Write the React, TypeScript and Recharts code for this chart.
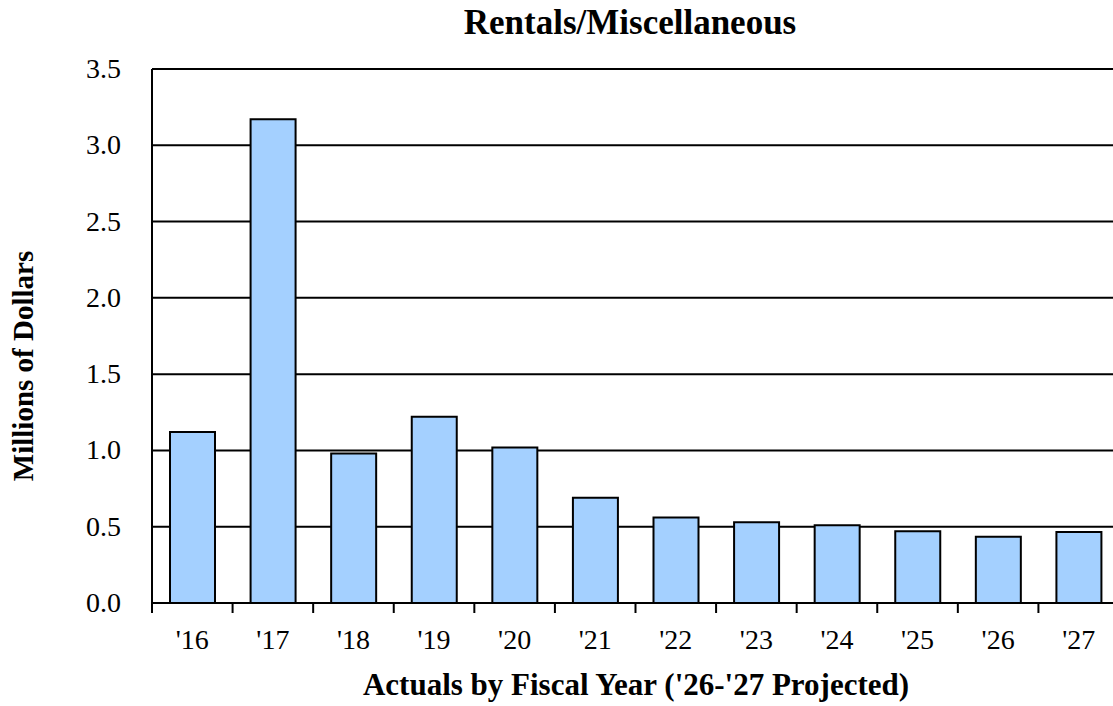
import { BarChart, Bar, XAxis, YAxis, CartesianGrid } from "recharts";

const years = ["'16", "'17", "'18", "'19", "'20", "'21", "'22", "'23", "'24", "'25", "'26", "'27"];
const rentals = [1.12, 3.17, 0.98, 1.22, 1.02, 0.69, 0.56, 0.53, 0.51, 0.47, 0.435, 0.465];
const yTicks = [0, 0.5, 1.0, 1.5, 2.0, 2.5, 3.0, 3.5];

const data = years.map((year, i) => ({ year, value: rentals[i] }));

const FONT = '"Liberation Serif", "Times New Roman", serif';

function XTick(props: any) {
  const { x, y, payload } = props;
  const off = payload && payload.offset ? payload.offset : 40;
  return (
    <g>
      <line x1={x - off} x2={x - off} y1={y} y2={y + 10} stroke="#000" strokeWidth={2} />
      <text x={x} y={y + 46} textAnchor="middle" fontFamily={FONT} fontSize={28} fill="#000">
        {payload.value}
      </text>
    </g>
  );
}

function YTick(props: any) {
  const { x, y, payload } = props;
  return (
    <text x={x - 31} y={y + 9} textAnchor="end" fontFamily={FONT} fontSize={28} fill="#000">
      {Number(payload.value).toFixed(1)}
    </text>
  );
}

export default function App() {
  return (
    <div
      style={{
        position: "absolute",
        left: 0,
        top: 0,
        width: 1113,
        height: 706,
        overflow: "hidden",
        background: "#fff",
      }}
    >
      <BarChart
        width={1125}
        height={706}
        data={data}
        margin={{ top: 69, right: 6, left: 0, bottom: 0 }}
        barSize={45}
      >
        <CartesianGrid vertical={false} stroke="#000" strokeWidth={2} />
        <XAxis
          dataKey="year"
          height={103}
          axisLine={{ stroke: "#000", strokeWidth: 2 }}
          tickLine={false}
          tickSize={0}
          tickMargin={0}
          tick={<XTick />}
          interval={0}
        />
        <YAxis
          width={152}
          domain={[0, 3.5]}
          ticks={yTicks}
          interval={0}
          axisLine={{ stroke: "#000", strokeWidth: 2 }}
          tickLine={false}
          tickSize={0}
          tickMargin={0}
          tick={<YTick />}
        />
        <Bar dataKey="value" fill="#a4d0ff" stroke="#000" strokeWidth={2} isAnimationActive={false} />
        <text x={630} y={34} textAnchor="middle" fontFamily={FONT} fontSize={35} fontWeight="bold" fill="#000">
          Rentals/Miscellaneous
        </text>
        <text x={636} y={695} textAnchor="middle" fontFamily={FONT} fontSize={31} fontWeight="bold" fill="#000">
          Actuals by Fiscal Year ('26-'27 Projected)
        </text>
        <text
          x={33}
          y={366}
          textAnchor="middle"
          fontFamily={FONT}
          fontSize={29}
          fontWeight="bold"
          fill="#000"
          transform="rotate(-90 33 366)"
        >
          Millions of Dollars
        </text>
      </BarChart>
    </div>
  );
}
